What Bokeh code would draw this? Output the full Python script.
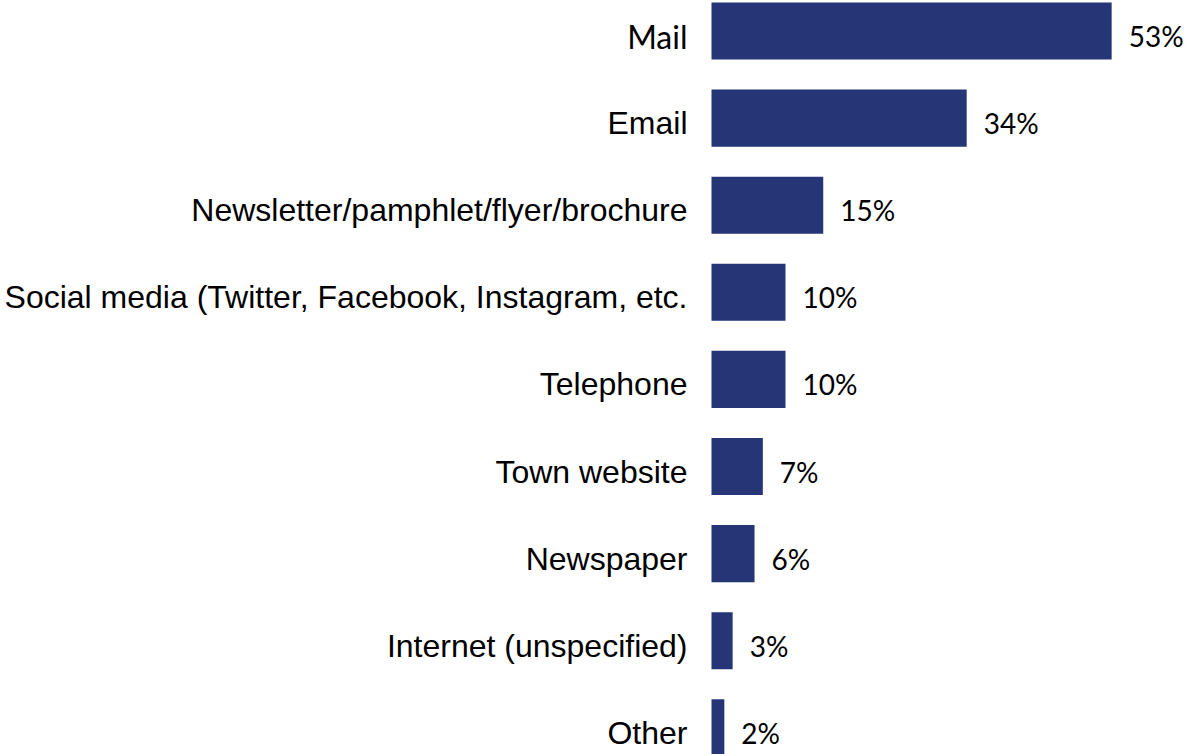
from bokeh.plotting import figure
from bokeh.models import ColumnDataSource, Range1d
from bokeh.core.properties import value
from bokeh.embed import file_html
from bokeh.resources import INLINE

categories = [
    "Mail",
    "Email",
    "Newsletter/pamphlet/flyer/brochure",
    "Social media (Twitter, Facebook, Instagram, etc.",
    "Telephone",
    "Town website",
    "Newspaper",
    "Internet (unspecified)",
    "Other",
]
values = [53.0, 33.8, 14.8, 9.8, 9.8, 6.8, 5.7, 2.8, 1.7]
value_labels = ["53%", "34%", "15%", "10%", "10%", "7%", "6%", "3%", "2%"]

W, H = 1188, 754
bar_color = "#253575"
label_font = "Liberation Sans"
value_font = "Lato"

ypos = list(range(len(categories)))
fonts = [value_font if c == "Mail" else label_font for c in categories]

src = ColumnDataSource(dict(
    y=ypos, v=values, zero=[0] * len(values), cat=categories,
    lab=value_labels, font=fonts,
))

px_per_unit_x = 7.55
bar_left_px = 711
px_per_row = 87.1
first_center_px = 30.5

x_start = -bar_left_px / px_per_unit_x
x_end = (W - bar_left_px) / px_per_unit_x
y_top = -first_center_px / px_per_row
y_bottom = (H - first_center_px) / px_per_row

p = figure(width=W, height=H, output_backend="svg", toolbar_location=None,
           x_range=Range1d(x_start, x_end), y_range=Range1d(y_bottom, y_top),
           min_border=0, outline_line_color=None)
p.axis.visible = False
p.grid.visible = False
p.background_fill_color = "white"
p.border_fill_color = "white"

p.hbar(y="y", left="zero", right="v", height=0.655, source=src,
       fill_color=bar_color, line_color=None)

p.text(x="zero", y="y", text="cat", source=src, text_align="right",
       text_baseline="middle", x_offset=-24, y_offset=5,
       text_font="font", text_font_size="32px", text_color="#000000")

p.text(x="v", y="y", text="lab", source=src, text_align="left",
       text_baseline="middle", x_offset=17, y_offset=5,
       text_font=value(value_font), text_font_size="28px", text_color="#000000")

open("out.html", "w").write(file_html(p, INLINE))
